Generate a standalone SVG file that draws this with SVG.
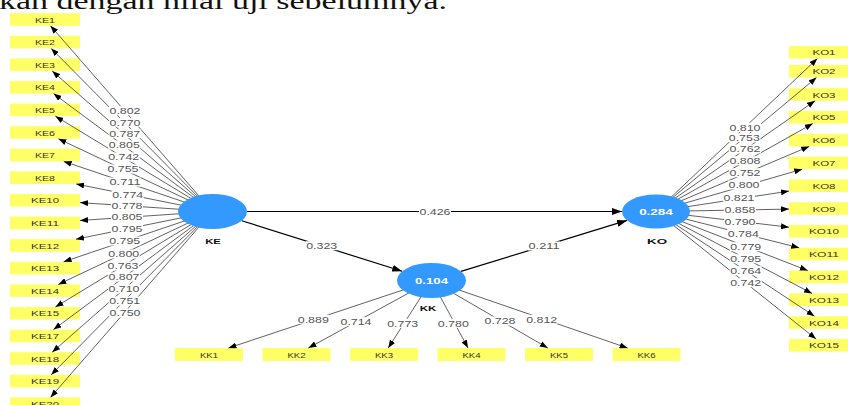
<svg xmlns="http://www.w3.org/2000/svg" width="848" height="405" viewBox="0 0 848 405">
<style>
.box{fill:#ffff66}
.bt{font-family:"Liberation Sans",Arial,sans-serif;font-size:8px;fill:#333;text-anchor:middle}
.ld{stroke:#3a3a3a;stroke-width:0.8;fill:none;marker-end:url(#a)}
.st{stroke:#000;stroke-width:1.2;fill:none;marker-end:url(#b)}
.lb{fill:#fff}
.lt{font-family:"Liberation Sans",Arial,sans-serif;font-size:9px;fill:#555;text-anchor:middle}
.lat{fill:#3399ff}
.lv{font-family:"Liberation Sans",Arial,sans-serif;font-size:9px;font-weight:bold;fill:#fff;text-anchor:middle}
.ln{font-family:"Liberation Sans",Arial,sans-serif;font-size:8px;font-weight:bold;fill:#111;text-anchor:middle}
.top{font-family:"Liberation Serif","Times New Roman",serif;font-size:24px;fill:#111}
</style>
<defs>
<marker id="a" markerUnits="userSpaceOnUse" viewBox="0 0 8 6" markerWidth="8" markerHeight="6" refX="8" refY="3" orient="auto"><path d="M0,0 L8,3 L0,6 z" fill="#000"/></marker>
<marker id="b" markerUnits="userSpaceOnUse" viewBox="0 0 10 7" markerWidth="10" markerHeight="7" refX="10" refY="3.5" orient="auto"><path d="M0,0 L10,3.5 L0,7 z" fill="#000"/></marker>
</defs>
<rect width="848" height="405" fill="#fff"/>
<text class="top" x="-1" y="9" textLength="448" lengthAdjust="spacingAndGlyphs">kan dengan nilai uji sebelumnya.</text>

<g id="KE1"><rect class="box" x="10" y="13.2" width="70" height="12.6"/><text class="bt" x="45" y="22.5" textLength="20" lengthAdjust="spacingAndGlyphs">KE1</text></g>
<g id="KE2"><rect class="box" x="10" y="35.8" width="70" height="12.6"/><text class="bt" x="45" y="45.1" textLength="20" lengthAdjust="spacingAndGlyphs">KE2</text></g>
<g id="KE3"><rect class="box" x="10" y="58.4" width="70" height="12.6"/><text class="bt" x="45" y="67.7" textLength="20" lengthAdjust="spacingAndGlyphs">KE3</text></g>
<g id="KE4"><rect class="box" x="10" y="81" width="70" height="12.6"/><text class="bt" x="45" y="90.3" textLength="20" lengthAdjust="spacingAndGlyphs">KE4</text></g>
<g id="KE5"><rect class="box" x="10" y="103.6" width="70" height="12.6"/><text class="bt" x="45" y="112.9" textLength="20" lengthAdjust="spacingAndGlyphs">KE5</text></g>
<g id="KE6"><rect class="box" x="10" y="126.2" width="70" height="12.6"/><text class="bt" x="45" y="135.5" textLength="20" lengthAdjust="spacingAndGlyphs">KE6</text></g>
<g id="KE7"><rect class="box" x="10" y="148.8" width="70" height="12.6"/><text class="bt" x="45" y="158.1" textLength="20" lengthAdjust="spacingAndGlyphs">KE7</text></g>
<g id="KE8"><rect class="box" x="10" y="171.4" width="70" height="12.6"/><text class="bt" x="45" y="180.7" textLength="20" lengthAdjust="spacingAndGlyphs">KE8</text></g>
<g id="KE10"><rect class="box" x="10" y="194" width="70" height="12.6"/><text class="bt" x="45" y="203.3" textLength="28" lengthAdjust="spacingAndGlyphs">KE10</text></g>
<g id="KE11"><rect class="box" x="10" y="216.6" width="70" height="12.6"/><text class="bt" x="45" y="225.9" textLength="28" lengthAdjust="spacingAndGlyphs">KE11</text></g>
<g id="KE12"><rect class="box" x="10" y="239.2" width="70" height="12.6"/><text class="bt" x="45" y="248.5" textLength="28" lengthAdjust="spacingAndGlyphs">KE12</text></g>
<g id="KE13"><rect class="box" x="10" y="261.8" width="70" height="12.6"/><text class="bt" x="45" y="271.1" textLength="28" lengthAdjust="spacingAndGlyphs">KE13</text></g>
<g id="KE14"><rect class="box" x="10" y="284.4" width="70" height="12.6"/><text class="bt" x="45" y="293.7" textLength="28" lengthAdjust="spacingAndGlyphs">KE14</text></g>
<g id="KE15"><rect class="box" x="10" y="307" width="70" height="12.6"/><text class="bt" x="45" y="316.3" textLength="28" lengthAdjust="spacingAndGlyphs">KE15</text></g>
<g id="KE17"><rect class="box" x="10" y="329.6" width="70" height="12.6"/><text class="bt" x="45" y="338.9" textLength="28" lengthAdjust="spacingAndGlyphs">KE17</text></g>
<g id="KE18"><rect class="box" x="10" y="352.2" width="70" height="12.6"/><text class="bt" x="45" y="361.5" textLength="28" lengthAdjust="spacingAndGlyphs">KE18</text></g>
<g id="KE19"><rect class="box" x="10" y="374.8" width="70" height="12.6"/><text class="bt" x="45" y="384.1" textLength="28" lengthAdjust="spacingAndGlyphs">KE19</text></g>
<g id="KE20"><rect class="box" x="10" y="397.4" width="70" height="12.6"/><text class="bt" x="45" y="406.7" textLength="28" lengthAdjust="spacingAndGlyphs">KE20</text></g>

<g id="KO1"><rect class="box" x="789" y="45.9" width="70" height="12.6"/><text class="bt" x="824" y="55.2" textLength="23" lengthAdjust="spacingAndGlyphs">KO1</text></g>
<g id="KO2"><rect class="box" x="789" y="64.9" width="70" height="12.6"/><text class="bt" x="824" y="74.2" textLength="23" lengthAdjust="spacingAndGlyphs">KO2</text></g>
<g id="KO3"><rect class="box" x="789" y="88.2" width="70" height="12.6"/><text class="bt" x="824" y="97.5" textLength="23" lengthAdjust="spacingAndGlyphs">KO3</text></g>
<g id="KO5"><rect class="box" x="789" y="111" width="70" height="12.6"/><text class="bt" x="824" y="120.3" textLength="23" lengthAdjust="spacingAndGlyphs">KO5</text></g>
<g id="KO6"><rect class="box" x="789" y="133.8" width="70" height="12.6"/><text class="bt" x="824" y="143.1" textLength="23" lengthAdjust="spacingAndGlyphs">KO6</text></g>
<g id="KO7"><rect class="box" x="789" y="156.6" width="70" height="12.6"/><text class="bt" x="824" y="165.9" textLength="23" lengthAdjust="spacingAndGlyphs">KO7</text></g>
<g id="KO8"><rect class="box" x="789" y="179.4" width="70" height="12.6"/><text class="bt" x="824" y="188.7" textLength="23" lengthAdjust="spacingAndGlyphs">KO8</text></g>
<g id="KO9"><rect class="box" x="789" y="202.2" width="70" height="12.6"/><text class="bt" x="824" y="211.5" textLength="23" lengthAdjust="spacingAndGlyphs">KO9</text></g>
<g id="KO10"><rect class="box" x="789" y="225" width="70" height="12.6"/><text class="bt" x="824" y="234.3" textLength="30" lengthAdjust="spacingAndGlyphs">KO10</text></g>
<g id="KO11"><rect class="box" x="789" y="247.8" width="70" height="12.6"/><text class="bt" x="824" y="257.1" textLength="30" lengthAdjust="spacingAndGlyphs">KO11</text></g>
<g id="KO12"><rect class="box" x="789" y="270.6" width="70" height="12.6"/><text class="bt" x="824" y="279.9" textLength="30" lengthAdjust="spacingAndGlyphs">KO12</text></g>
<g id="KO13"><rect class="box" x="789" y="293.4" width="70" height="12.6"/><text class="bt" x="824" y="302.7" textLength="30" lengthAdjust="spacingAndGlyphs">KO13</text></g>
<g id="KO14"><rect class="box" x="789" y="316.2" width="70" height="12.6"/><text class="bt" x="824" y="325.5" textLength="30" lengthAdjust="spacingAndGlyphs">KO14</text></g>
<g id="KO15"><rect class="box" x="789" y="339" width="70" height="12.6"/><text class="bt" x="824" y="348.3" textLength="30" lengthAdjust="spacingAndGlyphs">KO15</text></g>

<g id="KK1"><rect class="box" x="175" y="348" width="68" height="13"/><text class="bt" x="209" y="357.5" textLength="18" lengthAdjust="spacingAndGlyphs">KK1</text></g>
<g id="KK2"><rect class="box" x="262.5" y="348" width="68" height="13"/><text class="bt" x="296.5" y="357.5" textLength="18" lengthAdjust="spacingAndGlyphs">KK2</text></g>
<g id="KK3"><rect class="box" x="350" y="348" width="68" height="13"/><text class="bt" x="384" y="357.5" textLength="18" lengthAdjust="spacingAndGlyphs">KK3</text></g>
<g id="KK4"><rect class="box" x="437.5" y="348" width="68" height="13"/><text class="bt" x="471.5" y="357.5" textLength="18" lengthAdjust="spacingAndGlyphs">KK4</text></g>
<g id="KK5"><rect class="box" x="525" y="348" width="68" height="13"/><text class="bt" x="559" y="357.5" textLength="18" lengthAdjust="spacingAndGlyphs">KK5</text></g>
<g id="KK6"><rect class="box" x="612.5" y="348" width="68" height="13"/><text class="bt" x="646.5" y="357.5" textLength="18" lengthAdjust="spacingAndGlyphs">KK6</text></g>

<g id="connectors">
<path class="ld" d="M212.5,211.5 L50.5,25.8"/>
<path class="ld" d="M212.5,211.5 L51.2,48.4"/>
<path class="ld" d="M212.5,211.5 L52.2,71"/>
<path class="ld" d="M212.5,211.5 L53.5,93.6"/>
<path class="ld" d="M212.5,211.5 L55.4,116.2"/>
<path class="ld" d="M212.5,211.5 L58.4,138.8"/>
<path class="ld" d="M212.5,211.5 L63.7,161.4"/>
<path class="ld" d="M212.5,211.5 L76.2,184"/>
<path class="ld" d="M212.5,211.5 L80,202.6"/>
<path class="ld" d="M212.5,211.5 L80,220.5"/>
<path class="ld" d="M212.5,211.5 L76,239.2"/>
<path class="ld" d="M212.5,211.5 L63.6,261.8"/>
<path class="ld" d="M212.5,211.5 L58.3,284.4"/>
<path class="ld" d="M212.5,211.5 L55.4,307"/>
<path class="ld" d="M212.5,211.5 L53.5,329.6"/>
<path class="ld" d="M212.5,211.5 L52.2,352.2"/>
<path class="ld" d="M212.5,211.5 L51.2,374.8"/>
<path class="ld" d="M212.5,211.5 L50.5,397.4"/>

<path class="ld" d="M656,211.5 L817.4,58.5"/>
<path class="ld" d="M656,211.5 L816.5,77.5"/>
<path class="ld" d="M656,211.5 L815,100.8"/>
<path class="ld" d="M656,211.5 L812.8,123.6"/>
<path class="ld" d="M656,211.5 L809.2,146.4"/>
<path class="ld" d="M656,211.5 L802.2,169.2"/>
<path class="ld" d="M656,211.5 L789,191.1"/>
<path class="ld" d="M656,211.5 L789,209.1"/>
<path class="ld" d="M656,211.5 L789,227.2"/>
<path class="ld" d="M656,211.5 L799.2,247.8"/>
<path class="ld" d="M656,211.5 L807.8,270.6"/>
<path class="ld" d="M656,211.5 L812,293.4"/>
<path class="ld" d="M656,211.5 L814.5,316.2"/>
<path class="ld" d="M656,211.5 L816.1,339"/>

<path class="ld" d="M431.5,280.5 L228.5,348"/>
<path class="ld" d="M431.5,280.5 L308.4,348"/>
<path class="ld" d="M431.5,280.5 L388.2,348"/>
<path class="ld" d="M431.5,280.5 L468,348"/>
<path class="ld" d="M431.5,280.5 L547.8,348"/>
<path class="ld" d="M431.5,280.5 L627.6,348"/>

<path class="st" d="M247,211.5 L622,211.5"/>
<path class="st" d="M241.8,220.7 L402.2,271.3"/>
<path class="st" d="M461,271.4 L627,220.4"/>

<g id="labels">
<rect class="lb" x="109" y="106.2" width="32" height="9"/><text class="lt" x="125" y="113.9" textLength="31" lengthAdjust="spacingAndGlyphs">0.802</text>
<rect class="lb" x="109" y="117.8" width="32" height="9"/><text class="lt" x="125" y="125.5" textLength="31" lengthAdjust="spacingAndGlyphs">0.770</text>
<rect class="lb" x="108.7" y="129.2" width="32" height="9"/><text class="lt" x="124.7" y="136.9" textLength="31" lengthAdjust="spacingAndGlyphs">0.787</text>
<rect class="lb" x="108.3" y="140.5" width="32" height="9"/><text class="lt" x="124.3" y="148.2" textLength="31" lengthAdjust="spacingAndGlyphs">0.805</text>
<rect class="lb" x="107.7" y="152.5" width="32" height="9"/><text class="lt" x="123.7" y="160.2" textLength="31" lengthAdjust="spacingAndGlyphs">0.742</text>
<rect class="lb" x="107" y="164.5" width="32" height="9"/><text class="lt" x="123" y="172.2" textLength="31" lengthAdjust="spacingAndGlyphs">0.755</text>
<rect class="lb" x="109" y="177.5" width="32" height="9"/><text class="lt" x="125" y="185.2" textLength="31" lengthAdjust="spacingAndGlyphs">0.711</text>
<rect class="lb" x="111.7" y="190.5" width="32" height="9"/><text class="lt" x="127.7" y="198.2" textLength="31" lengthAdjust="spacingAndGlyphs">0.774</text>
<rect class="lb" x="111" y="201.5" width="32" height="9"/><text class="lt" x="127" y="209.2" textLength="31" lengthAdjust="spacingAndGlyphs">0.778</text>
<rect class="lb" x="111" y="212.5" width="32" height="9"/><text class="lt" x="127" y="220.2" textLength="31" lengthAdjust="spacingAndGlyphs">0.805</text>
<rect class="lb" x="111" y="224.5" width="32" height="9"/><text class="lt" x="127" y="232.2" textLength="31" lengthAdjust="spacingAndGlyphs">0.795</text>
<rect class="lb" x="108.7" y="236.5" width="32" height="9"/><text class="lt" x="124.7" y="244.2" textLength="31" lengthAdjust="spacingAndGlyphs">0.795</text>
<rect class="lb" x="107.7" y="249.5" width="32" height="9"/><text class="lt" x="123.7" y="257.2" textLength="31" lengthAdjust="spacingAndGlyphs">0.800</text>
<rect class="lb" x="107" y="261.5" width="32" height="9"/><text class="lt" x="123" y="269.2" textLength="31" lengthAdjust="spacingAndGlyphs">0.763</text>
<rect class="lb" x="108" y="272.5" width="32" height="9"/><text class="lt" x="124" y="280.2" textLength="31" lengthAdjust="spacingAndGlyphs">0.807</text>
<rect class="lb" x="108" y="284.5" width="32" height="9"/><text class="lt" x="124" y="292.2" textLength="31" lengthAdjust="spacingAndGlyphs">0.710</text>
<rect class="lb" x="108.7" y="296.5" width="32" height="9"/><text class="lt" x="124.7" y="304.2" textLength="31" lengthAdjust="spacingAndGlyphs">0.751</text>
<rect class="lb" x="109" y="308.5" width="32" height="9"/><text class="lt" x="125" y="316.2" textLength="31" lengthAdjust="spacingAndGlyphs">0.750</text>

<rect class="lb" x="729" y="122.8" width="32" height="9"/><text class="lt" x="745" y="130.5" textLength="31" lengthAdjust="spacingAndGlyphs">0.810</text>
<rect class="lb" x="728.3" y="133.2" width="32" height="9"/><text class="lt" x="744.3" y="140.9" textLength="31" lengthAdjust="spacingAndGlyphs">0.753</text>
<rect class="lb" x="729" y="144.5" width="32" height="9"/><text class="lt" x="745" y="152.2" textLength="31" lengthAdjust="spacingAndGlyphs">0.762</text>
<rect class="lb" x="729" y="156.2" width="32" height="9"/><text class="lt" x="745" y="163.9" textLength="31" lengthAdjust="spacingAndGlyphs">0.808</text>
<rect class="lb" x="729" y="168.2" width="32" height="9"/><text class="lt" x="745" y="175.9" textLength="31" lengthAdjust="spacingAndGlyphs">0.752</text>
<rect class="lb" x="728" y="180.5" width="32" height="9"/><text class="lt" x="744" y="188.2" textLength="31" lengthAdjust="spacingAndGlyphs">0.800</text>
<rect class="lb" x="723" y="192.8" width="32" height="9"/><text class="lt" x="739" y="200.5" textLength="31" lengthAdjust="spacingAndGlyphs">0.821</text>
<rect class="lb" x="724" y="205.5" width="32" height="9"/><text class="lt" x="740" y="213.2" textLength="31" lengthAdjust="spacingAndGlyphs">0.858</text>
<rect class="lb" x="724" y="217.2" width="32" height="9"/><text class="lt" x="740" y="224.9" textLength="31" lengthAdjust="spacingAndGlyphs">0.790</text>
<rect class="lb" x="727.3" y="228.8" width="32" height="9"/><text class="lt" x="743.3" y="236.5" textLength="31" lengthAdjust="spacingAndGlyphs">0.784</text>
<rect class="lb" x="729.7" y="242.2" width="32" height="9"/><text class="lt" x="745.7" y="249.9" textLength="31" lengthAdjust="spacingAndGlyphs">0.779</text>
<rect class="lb" x="729.7" y="254.2" width="32" height="9"/><text class="lt" x="745.7" y="261.9" textLength="31" lengthAdjust="spacingAndGlyphs">0.795</text>
<rect class="lb" x="729.7" y="266.2" width="32" height="9"/><text class="lt" x="745.7" y="273.9" textLength="31" lengthAdjust="spacingAndGlyphs">0.764</text>
<rect class="lb" x="729.7" y="278.2" width="32" height="9"/><text class="lt" x="745.7" y="285.9" textLength="31" lengthAdjust="spacingAndGlyphs">0.742</text>

<rect class="lb" x="297.3" y="314.8" width="32" height="9"/><text class="lt" x="313.3" y="322.5" textLength="31" lengthAdjust="spacingAndGlyphs">0.889</text>
<rect class="lb" x="340" y="317.2" width="32" height="9"/><text class="lt" x="356" y="324.9" textLength="31" lengthAdjust="spacingAndGlyphs">0.714</text>
<rect class="lb" x="386.7" y="318.8" width="32" height="9"/><text class="lt" x="402.7" y="326.5" textLength="31" lengthAdjust="spacingAndGlyphs">0.773</text>
<rect class="lb" x="437.3" y="318.8" width="32" height="9"/><text class="lt" x="453.3" y="326.5" textLength="31" lengthAdjust="spacingAndGlyphs">0.780</text>
<rect class="lb" x="484" y="316.5" width="32" height="9"/><text class="lt" x="500" y="324.2" textLength="31" lengthAdjust="spacingAndGlyphs">0.728</text>
<rect class="lb" x="525.7" y="314.8" width="32" height="9"/><text class="lt" x="541.7" y="322.5" textLength="31" lengthAdjust="spacingAndGlyphs">0.812</text>

<rect class="lb" x="419" y="207" width="32" height="9"/><text class="lt" x="435" y="214.7" textLength="31" lengthAdjust="spacingAndGlyphs">0.426</text>
<rect class="lb" x="305.7" y="241.2" width="32" height="9"/><text class="lt" x="321.7" y="248.9" textLength="31" lengthAdjust="spacingAndGlyphs">0.323</text>
<rect class="lb" x="528" y="241.5" width="32" height="9"/><text class="lt" x="544" y="249.2" textLength="31" lengthAdjust="spacingAndGlyphs">0.211</text>
</g>
</g>

<g id="KE"><ellipse class="lat" cx="212.5" cy="211.5" rx="34.5" ry="17.5"/><text class="ln" x="213" y="244" textLength="15.7" lengthAdjust="spacingAndGlyphs">KE</text></g>
<g id="KK"><ellipse class="lat" cx="431.5" cy="280.5" rx="34.5" ry="17.5"/><text class="lv" x="431.5" y="283.8" textLength="33" lengthAdjust="spacingAndGlyphs">0.104</text><text class="ln" x="428" y="311" textLength="16.7" lengthAdjust="spacingAndGlyphs">KK</text></g>
<g id="KO"><ellipse class="lat" cx="656" cy="211.5" rx="34" ry="17"/><text class="lv" x="656" y="214.8" textLength="33.7" lengthAdjust="spacingAndGlyphs">0.284</text><text class="ln" x="657" y="244" textLength="20" lengthAdjust="spacingAndGlyphs">KO</text></g>
</svg>
